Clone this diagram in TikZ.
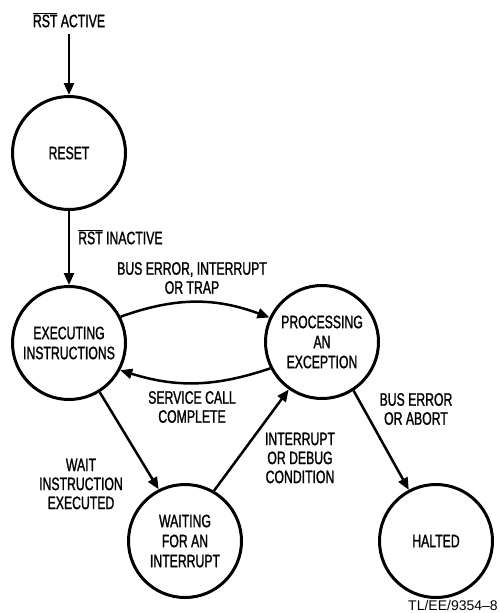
\documentclass[tikz,border=0pt]{standalone}
\usepackage{fontspec}
\setmainfont{Liberation Sans}[FakeStretch=0.68, FakeBold=1.2]
\newfontfamily\reffont{Liberation Sans}[Ligatures=TeX]
\usepackage{tikz}
\usetikzlibrary{arrows.meta}

\begin{document}
\begin{tikzpicture}[x=1pt, y=1pt, >={Triangle[length=12pt,width=10pt]},
  state/.style={draw, circle, line width=3pt, minimum size=113pt, inner sep=0pt,
    align=center, font=\fontsize{18}{20}\selectfont},
  lbl/.style={align=center, inner sep=0pt, font=\fontsize{18}{19}\selectfont},
  every path/.style={line width=2.5pt}]
\useasboundingbox (0,0) rectangle (499,-613);

% states
\node[state] (reset) at (69,-153) {RESET};
\node[state] (exec) at (69,-343) {EXECUTING\\INSTRUCTIONS};
\node[state] (proc) at (322,-342) {PROCESSING\\AN\\EXCEPTION};
\node[state] (wait) at (185,-541) {WAITING\\FOR AN\\INTERRUPT};
\node[state] (halted) at (436,-541) {HALTED};

% labels
\node[lbl] (active) at (69,-20) {$\overline{\mbox{RST}}$ ACTIVE};
\coordinate (start) at (69,-34);
\node[lbl, anchor=west] (inactive) at (77,-237) {$\overline{\mbox{RST}}$ INACTIVE};
\node[lbl] (trap) at (192,-278) {BUS ERROR, INTERRUPT\\OR TRAP};
\node[lbl] (svc) at (192,-407) {SERVICE CALL\\COMPLETE};
\node[lbl] (waitins) at (81,-484) {WAIT\\INSTRUCTION\\EXECUTED};
\node[lbl] (intr) at (300,-458) {INTERRUPT\\OR DEBUG\\CONDITION};
\node[lbl] (abort) at (416,-409) {BUS ERROR\\OR ABORT};
\node[lbl, anchor=east, font=\reffont\fontsize{14}{16}\selectfont] (ref) at (499,-605) {TL/EE/9354\textendash8};

% transitions
\draw[->] (start) -- (reset);
\draw[->] (reset) -- (exec);
\draw[->] (exec.27) to[bend left=20] (proc.155);
\draw[->] (proc.-153) to[bend left=18] (exec.-28);
\draw[->] (exec.-58) -- (wait.117);
\draw[->] (wait.60) -- (proc.-125);
\draw[->] (proc.-57) -- (halted.118);
\end{tikzpicture}
\end{document}
